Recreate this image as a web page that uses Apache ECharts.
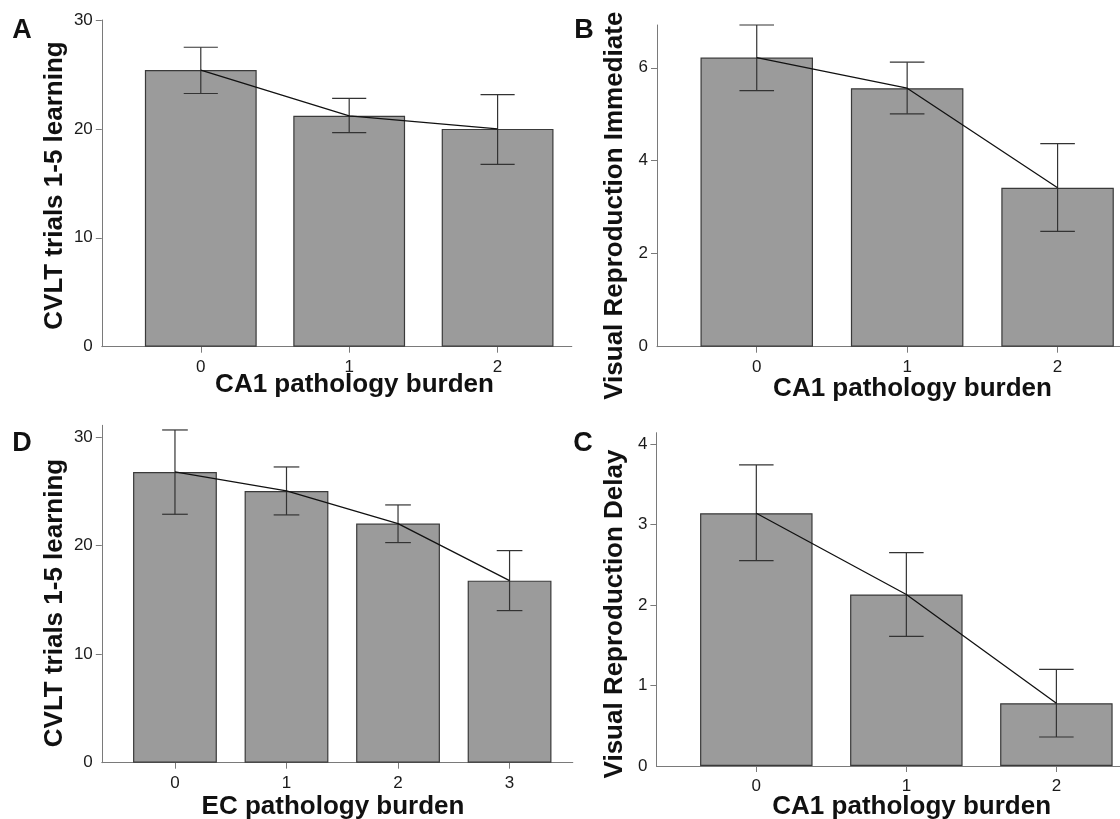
<!DOCTYPE html>
<html>
<head>
<meta charset="utf-8">
<script src="https://cdn.jsdelivr.net/npm/echarts@6/dist/echarts.min.js"></script>
<style>
html,body{margin:0;padding:0;background:#fff;}
#chart{width:1120px;height:819px;}
</style>
</head>
<body>
<div id="chart"></div>
<script>
// ---- Data ----
// Panel A: CVLT trials 1-5 learning vs CA1 pathology burden
const catA = [0, 1, 2];
const meanA = [25.4, 21.2, 20.0];
const upperA = [27.5, 22.8, 23.15];
const lowerA = [23.25, 19.65, 16.75];
const ticksA = [0, 10, 20, 30];

// Panel B: Visual Reproduction Immediate vs CA1 pathology burden
const catB = [0, 1, 2];
const meanB = [6.22, 5.56, 3.42];
const upperB = [6.92, 6.12, 4.37];
const lowerB = [5.51, 5.01, 2.48];
const ticksB = [0, 2, 4, 6];

// Panel D: CVLT trials 1-5 learning vs EC pathology burden
const catD = [0, 1, 2, 3];
const meanD = [26.8, 25.05, 22.04, 16.78];
const upperD = [30.67, 27.26, 23.76, 19.55];
const lowerD = [22.9, 22.84, 20.29, 14.02];
const ticksD = [0, 10, 20, 30];

// Panel C: Visual Reproduction Delay vs CA1 pathology burden
const catC = [0, 1, 2];
const meanC = [3.14, 2.13, 0.78];
const upperC = [3.74, 2.65, 1.20];
const lowerC = [2.55, 1.61, 0.36];
const ticksC = [0, 1, 2, 3, 4];

// ---- Styling ----
const FONT = '"Liberation Sans", Arial, Helvetica, sans-serif';
const AXIS_COLOR = '#7a7a7a';
const LABEL_COLOR = '#1a1a1a';
const BAR_FILL = '#9b9b9b';
const BAR_BORDER = '#3a3a3a';

const panels = [
  {cat: catA, mean: meanA, up: upperA, lo: lowerA, yt: ticksA, ymax: 30,
   grid: {left: 101.8, top: 20, width: 470, height: 326.7}, xmin: -0.667, xmax: 2.5, barW: 111.8},
  {cat: catB, mean: meanB, up: upperB, lo: lowerB, yt: ticksB, ymax: 6.92,
   grid: {left: 657, top: 25, width: 463, height: 321.7}, xmin: -0.663, xmax: 2.415, barW: 112.5},
  {cat: catD, mean: meanD, up: upperD, lo: lowerD, yt: ticksD, ymax: 31.1,
   grid: {left: 101.8, top: 425.3, width: 471, height: 337.4}, xmin: -0.656, xmax: 3.567, barW: 83.8},
  {cat: catC, mean: meanC, up: upperC, lo: lowerC, yt: ticksC, ymax: 4.14,
   grid: {left: 656.4, top: 432.7, width: 463.6, height: 333.3}, xmin: -0.666, xmax: 2.424, barW: 112.5}
];

const grids = [], xAxes = [], yAxes = [], series = [];
panels.forEach((p, i) => {
  grids.push(Object.assign({containLabel: false}, p.grid));
  xAxes.push({
    type: 'value', gridIndex: i, min: p.xmin, max: p.xmax,
    axisLine: {show: true, lineStyle: {color: AXIS_COLOR, width: 1}},
    axisTick: {show: true, length: 6, customValues: p.cat, lineStyle: {color: AXIS_COLOR}},
    axisLabel: {show: true, customValues: p.cat, margin: 12, fontSize: 17, color: LABEL_COLOR, fontFamily: FONT},
    splitLine: {show: false}
  });
  yAxes.push({
    type: 'value', gridIndex: i, min: 0, max: p.ymax,
    axisLine: {show: true, onZero: false, lineStyle: {color: AXIS_COLOR, width: 1}},
    axisTick: {show: true, length: 6, customValues: p.yt.filter(v => v !== 0), lineStyle: {color: AXIS_COLOR}},
    axisLabel: {show: true, customValues: p.yt, margin: 9, fontSize: 17, color: LABEL_COLOR, fontFamily: FONT},
    splitLine: {show: false}
  });
  series.push({
    type: 'bar', xAxisIndex: i, yAxisIndex: i, barWidth: p.barW,
    itemStyle: {color: BAR_FILL, borderColor: BAR_BORDER, borderWidth: 1.2},
    data: p.cat.map((c, k) => [c, p.mean[k]]),
    silent: true, z: 2
  });
  series.push({
    type: 'custom', xAxisIndex: i, yAxisIndex: i, z: 4, silent: true,
    data: p.cat.map((c, k) => [c, p.lo[k], p.up[k]]),
    encode: {x: 0, y: [1, 2]},
    renderItem: function (params, api) {
      const x = api.value(0), lo = api.value(1), hi = api.value(2);
      const pt = api.coord([x, hi]);
      const pb = api.coord([x, lo]);
      const hw = api.size([1, 0])[0] * 0.115;
      const st = {stroke: '#333333', lineWidth: 1.2};
      return {type: 'group', children: [
        {type: 'line', shape: {x1: pt[0], y1: pt[1], x2: pb[0], y2: pb[1]}, style: st},
        {type: 'line', shape: {x1: pt[0] - hw, y1: pt[1], x2: pt[0] + hw, y2: pt[1]}, style: st},
        {type: 'line', shape: {x1: pb[0] - hw, y1: pb[1], x2: pb[0] + hw, y2: pb[1]}, style: st}
      ]};
    }
  });
  series.push({
    type: 'line', xAxisIndex: i, yAxisIndex: i, z: 5, silent: true,
    data: p.cat.map((c, k) => [c, p.mean[k]]),
    showSymbol: false, symbol: 'none',
    lineStyle: {color: '#111111', width: 1.3},
    animation: false
  });
});

const titleFont = 'bold 26px ' + FONT;
const letterFont = 'bold 27px ' + FONT;
function txt(text, x, y, font, rot) {
  return {type: 'text', x: x, y: y, rotation: rot || 0, silent: true, z: 10,
    style: {text: text, font: font, fill: '#111111', textAlign: 'center', textVerticalAlign: 'middle'}};
}
const graphics = [
  txt('A', 22, 31, letterFont), txt('B', 584, 31, letterFont),
  txt('D', 22, 444, letterFont), txt('C', 583, 444, letterFont),
  txt('CA1 pathology burden', 354.5, 385, titleFont),
  txt('CA1 pathology burden', 912.5, 389, titleFont),
  txt('EC pathology burden', 333, 807, titleFont),
  txt('CA1 pathology burden', 911.7, 807, titleFont),
  txt('CVLT trials 1-5 learning', 55, 185.5, titleFont, Math.PI / 2),
  txt('Visual Reproduction Immediate', 615, 205.7, titleFont, Math.PI / 2),
  txt('CVLT trials 1-5 learning', 55, 603, titleFont, Math.PI / 2),
  txt('Visual Reproduction Delay', 615, 614, titleFont, Math.PI / 2)
];

const chart = echarts.init(document.getElementById('chart'), null, {renderer: 'canvas'});
chart.setOption({
  animation: false,
  backgroundColor: '#ffffff',
  textStyle: {fontFamily: FONT},
  grid: grids, xAxis: xAxes, yAxis: yAxes, series: series,
  graphic: graphics
});
</script>
</body>
</html>
